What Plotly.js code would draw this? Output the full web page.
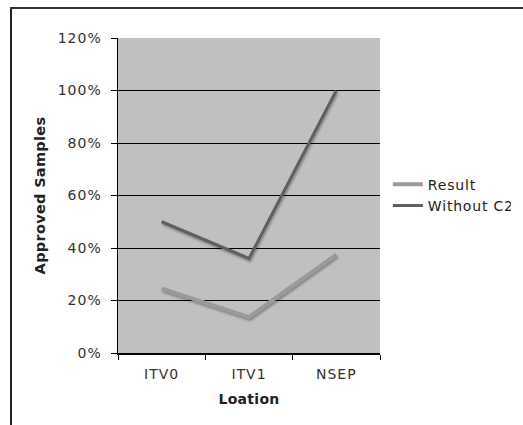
<!DOCTYPE html>
<html>
<head>
<meta charset="utf-8">
<script src="https://cdn.plot.ly/plotly-3.0.1.min.js"></script>
<style>
html,body{margin:0;padding:0;background:#fff;overflow:hidden;}
#chart{position:absolute;left:0;top:0;width:523px;height:425px;}
#chart .scatterlayer .trace path.js-line{filter:drop-shadow(1px 2px 1px rgba(0,0,0,0.3));}
#chart .xtick text, #chart .ytick text{letter-spacing:1px;}
#chart .legendtext{letter-spacing:0.8px;}
#chart .g-xtitle text, #chart .g-ytitle text{letter-spacing:0.3px;}
</style>
</head>
<body>
<div id="chart"></div>
<script>
const categories = ["ITV0", "ITV1", "NSEP"];
const resultValues = [0.245, 0.137, 0.375];
const withoutC2Values = [0.50, 0.36, 1.00];
const seriesNames = ["Result", "Without C2"];
const yTickValues = [0, 0.2, 0.4, 0.6, 0.8, 1.0, 1.2];

const font = "DejaVu Sans, Verdana, sans-serif";

const traces = [
  {x: categories, y: resultValues, name: seriesNames[0], type: "scatter", mode: "lines",
   line: {color: "#9a9a9a", width: 4}},
  {x: categories, y: withoutC2Values, name: seriesNames[1], type: "scatter", mode: "lines",
   line: {color: "#5f5f5f", width: 3}}
];

// outer chart frame (Excel chart area border), left and top edges only visible
const W = 523, H = 425, ML = 118, MR = 143, MT = 38, MB = 72;
const pw = W - ML - MR, ph = H - MT - MB;
const fx = (px) => (px - ML) / pw;
const fy = (py) => (H - MB - py) / ph;

const layout = {
  width: W, height: H,
  margin: {l: ML, r: MR, t: MT, b: MB, pad: 0},
  paper_bgcolor: "#ffffff",
  plot_bgcolor: "#c0c0c0",
  font: {family: font, size: 14, color: "#000"},
  showlegend: true,
  legend: {x: 1.03, y: 0.585, xanchor: "left", yanchor: "top", font: {size: 14, color: "#222"},
           bgcolor: "rgba(0,0,0,0)", tracegroupgap: 0, itemwidth: 30, borderwidth: 0},
  shapes: [
    {type: "line", xref: "paper", yref: "paper", x0: fx(11), x1: fx(11), y0: fy(7), y1: fy(440),
     line: {color: "#222", width: 2}, layer: "above"},
    {type: "line", xref: "paper", yref: "paper", x0: fx(10), x1: fx(540), y0: fy(8), y1: fy(8),
     line: {color: "#333", width: 2}, layer: "above"}
  ],
  xaxis: {
    type: "category", range: [-0.5, 2.5],
    showline: true, linecolor: "#000", linewidth: 1.5,
    ticks: "outside", tickson: "boundaries", ticklen: 5, tickcolor: "#000",
    ticklabelstandoff: 8,
    showgrid: false, zeroline: false,
    title: {text: "Loation", font: {size: 14, weight: "bold", color: "#222"}, standoff: 13},
    tickfont: {size: 14, color: "#333"}
  },
  yaxis: {
    range: [0, 1.2], tickvals: yTickValues, tickformat: ".0%",
    showline: true, linecolor: "#000", linewidth: 1.5,
    ticks: "outside", ticklen: 6, tickcolor: "#000",
    ticklabelstandoff: 6,
    showgrid: true, gridcolor: "#000", gridwidth: 1,
    zeroline: false,
    title: {text: "Approved Samples", font: {size: 14.5, weight: "bold", color: "#222"}, standoff: 12},
    tickfont: {size: 14, color: "#333"}
  }
};

Plotly.newPlot("chart", traces, layout, {displayModeBar: false, staticPlot: true});
</script>
</body>
</html>
